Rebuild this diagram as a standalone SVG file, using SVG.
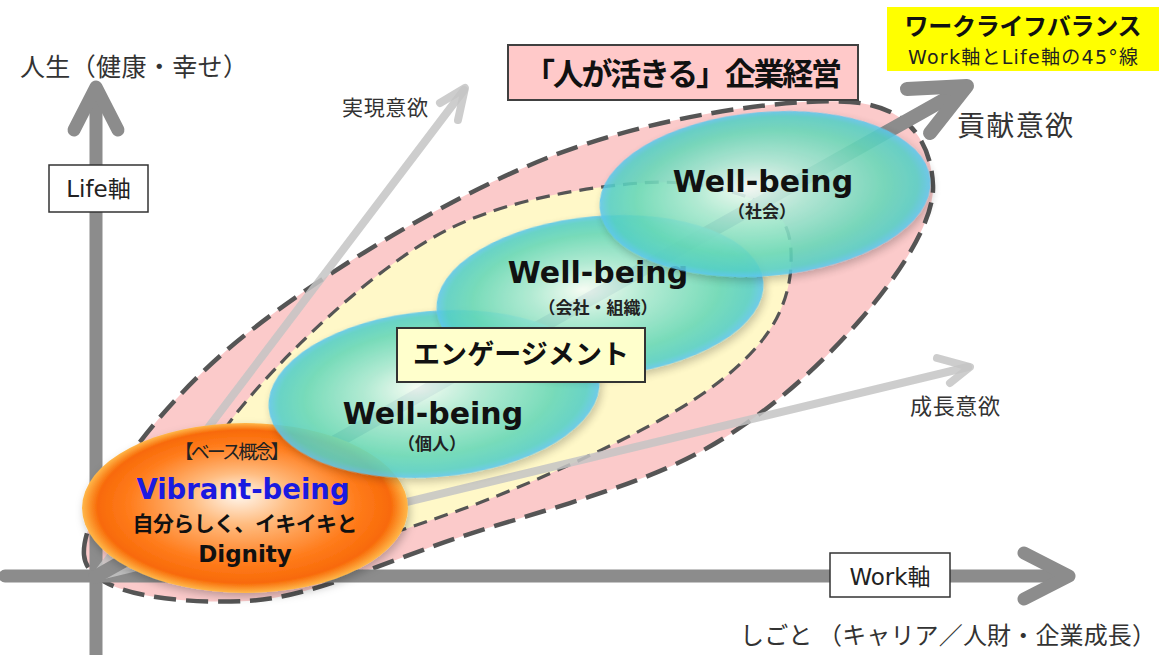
<svg xmlns="http://www.w3.org/2000/svg" width="1163" height="655" viewBox="0 0 1163 655">
  <defs>
    <style>
      .jp { font-family: "Noto Sans CJK JP", sans-serif; fill: #222; }
      .lat { font-family: "DejaVu Sans", "Noto Sans CJK JP", sans-serif; fill: #111; }
      .b { font-weight: bold; }
      .axis { stroke: #8c8c8c; stroke-width: 13; fill: none; stroke-linecap: round; stroke-linejoin: round; }
      .light { stroke: #c4c4c4; stroke-width: 8; fill: none; stroke-linecap: round; stroke-linejoin: round; opacity: 0.85; }
      .box { fill: #ffffff; stroke: #333; stroke-width: 1.5; }
      .teal { fill: url(#gTeal); opacity: 0.88; filter: url(#sh); }
    </style>
    <radialGradient id="gTeal" cx="50%" cy="50%" r="50%" fx="45%" fy="45%">
      <stop offset="0" stop-color="#f4fdf9"/>
      <stop offset="0.35" stop-color="#a8e9d5"/>
      <stop offset="0.75" stop-color="#66d8b8"/>
      <stop offset="0.93" stop-color="#55cfc6"/>
      <stop offset="1" stop-color="#5cc6ee"/>
    </radialGradient>
    <radialGradient id="gOrange" cx="50%" cy="50%" r="50%" fx="48%" fy="42%">
      <stop offset="0" stop-color="#fff8f0"/>
      <stop offset="0.3" stop-color="#ffbc80"/>
      <stop offset="0.7" stop-color="#ff7c1c"/>
      <stop offset="0.9" stop-color="#f86a08"/>
      <stop offset="1" stop-color="#ffb84a"/>
    </radialGradient>
    <filter id="sh" x="-10%" y="-10%" width="120%" height="130%">
      <feDropShadow dx="2" dy="4" stdDeviation="4" flood-color="#000" flood-opacity="0.25"/>
    </filter>
  </defs>

  <rect width="1163" height="655" fill="#ffffff"/>

  <!-- background regions -->
  <g id="region-company">
    <path d="M84,555 C80.7,513.2 149.8,416.2 227,350 C304.2,283.8 443.2,199.3 547,158 C650.8,116.7 785.7,97.5 850,102 C914.3,106.5 931.3,148.7 933,185 C934.7,221.3 898.8,275.5 860,320 C821.2,364.5 766.7,415.8 700,452 C633.3,488.2 535.5,512.2 460,537 C384.5,561.8 309.7,598 247,601 C184.3,604 87.3,596.8 84,555 Z" fill="#fbc4c4" fill-opacity="0.9" stroke="#555" stroke-width="4.5" stroke-dasharray="22 10"/>
  </g>
  <g id="region-engagement">
    <path d="M200,490 C196.2,459.8 235.8,410.3 277,367 C318.2,323.7 386.5,260.7 447,230 C507.5,199.3 587,187.2 640,183 C693,178.8 739.8,191.3 765,205 C790.2,218.7 791.8,242 791,265 C790.2,288 781.8,317.2 760,343 C738.2,368.8 710,392.2 660,420 C610,447.8 520,488.7 460,510 C400,531.3 343.3,551.3 300,548 C256.7,544.7 203.8,520.2 200,490 Z" fill="#fffcc8" fill-opacity="0.92" stroke="#555" stroke-width="3.2" stroke-dasharray="14 8"/>
  </g>

  <!-- connectors -->
  <g id="connectors">
    <line class="axis" x1="96" y1="660" x2="96" y2="89"/>
    <polyline class="axis" points="74,130 96,87 118,130"/>
    <line class="axis" x1="5" y1="576" x2="1067" y2="576"/>
    <polyline class="axis" points="1024,553 1069,576 1024,599"/>
    <line class="light" x1="95" y1="577" x2="464" y2="90"/>
    <polyline class="light" points="440,103 465,88 458,120"/>
    <line class="light" x1="95" y1="577" x2="968" y2="367"/>
    <polyline class="light" points="937,358 970,367 950,383"/>
    <line class="axis" style="stroke-width:14" x1="95" y1="577" x2="965" y2="88"/>
    <polyline class="axis" style="stroke-width:14" points="907,89 967,86 930,133"/>
  </g>

  <!-- axis labels -->
  <g id="life-axis-label">
    <rect class="box" x="49" y="165" width="99" height="47"/>
    <text class="lat" x="98.5" y="197" font-size="23" text-anchor="middle" style="fill:#222">Life軸</text>
  </g>
  <g id="work-axis-label">
    <rect class="box" x="830" y="553" width="120" height="44"/>
    <text class="lat" x="890" y="585" font-size="23" text-anchor="middle" style="fill:#222">Work軸</text>
  </g>
  <g id="life-axis-title">
    <text class="jp" x="20" y="76" font-size="25" textLength="228" style="fill:#333">人生（健康・幸せ）</text>
  </g>
  <g id="work-axis-title">
    <text class="jp" x="740" y="644" font-size="24" textLength="416" style="fill:#333">しごと （キャリア／人財・企業成長）</text>
  </g>
  <g id="label-jitsugen">
    <text class="jp" x="342" y="115" font-size="21" textLength="86" style="fill:#333">実現意欲</text>
  </g>
  <g id="label-seicho">
    <text class="jp" x="910" y="414" font-size="22" textLength="90" style="fill:#333">成長意欲</text>
  </g>
  <g id="label-koken">
    <text class="jp" x="957" y="136" font-size="28" textLength="116" style="fill:#333">貢献意欲</text>
  </g>

  <!-- base concept -->
  <g id="node-vibrant">
    <ellipse cx="245" cy="508" rx="163" ry="85" fill="url(#gOrange)" filter="url(#sh)"/>
    <text class="jp" x="232" y="459" font-size="19" text-anchor="middle" textLength="115">【ベース概念】</text>
    <text class="lat b" x="243" y="499" font-size="27.5" text-anchor="middle" style="fill:#1a1ae0">Vibrant-being</text>
    <text class="jp b" x="245" y="531" font-size="21" text-anchor="middle" textLength="225" style="fill:#111">自分らしく、イキイキと</text>
    <text class="lat b" x="245" y="562" font-size="23" text-anchor="middle">Dignity</text>
  </g>

  <!-- well-being nodes -->
  <g id="node-wb-individual">
    <ellipse class="teal" cx="434" cy="394" rx="166" ry="83" transform="rotate(-5 434 394)"/>
    <text class="lat b" x="433" y="424" font-size="30" text-anchor="middle">Well-being</text>
    <text class="jp b" x="432" y="450" font-size="17" text-anchor="middle">（個人）</text>
  </g>
  <g id="node-wb-company">
    <ellipse class="teal" cx="600" cy="296" rx="164" ry="80" transform="rotate(-5 600 296)"/>
    <text class="lat b" x="598" y="283" font-size="30" text-anchor="middle">Well-being</text>
    <text class="jp b" x="598" y="314" font-size="17" text-anchor="middle">（会社・組織）</text>
  </g>
  <g id="node-wb-society">
    <ellipse class="teal" cx="765" cy="194" rx="166" ry="82" transform="rotate(-5 765 194)"/>
    <text class="lat b" x="763" y="192" font-size="30" text-anchor="middle">Well-being</text>
    <text class="jp b" x="762" y="218" font-size="17" text-anchor="middle">（社会）</text>
  </g>

  <g id="label-engagement">
    <rect x="397" y="328" width="248" height="54" fill="#ffffcc" stroke="#333" stroke-width="2"/>
    <text class="jp b" x="521" y="364" font-size="27" text-anchor="middle" textLength="216" style="fill:#111">エンゲージメント</text>
  </g>

  <g id="title-management">
    <rect x="508" y="45" width="350" height="55" fill="#ffc9c9" stroke="#404040" stroke-width="2"/>
    <text class="jp b" x="683" y="85" font-size="31" text-anchor="middle" textLength="318" style="fill:#111">「人が活きる」企業経営</text>
  </g>

  <g id="title-wlb">
    <rect x="887" y="7" width="272" height="64" fill="#ffff00"/>
    <text class="jp b" x="1023" y="35" font-size="24" text-anchor="middle" textLength="237" style="fill:#111">ワークライフバランス</text>
    <text class="lat" x="1023" y="64" font-size="19" text-anchor="middle" textLength="230" style="fill:#222">Work軸とLife軸の45°線</text>
  </g>
</svg>
